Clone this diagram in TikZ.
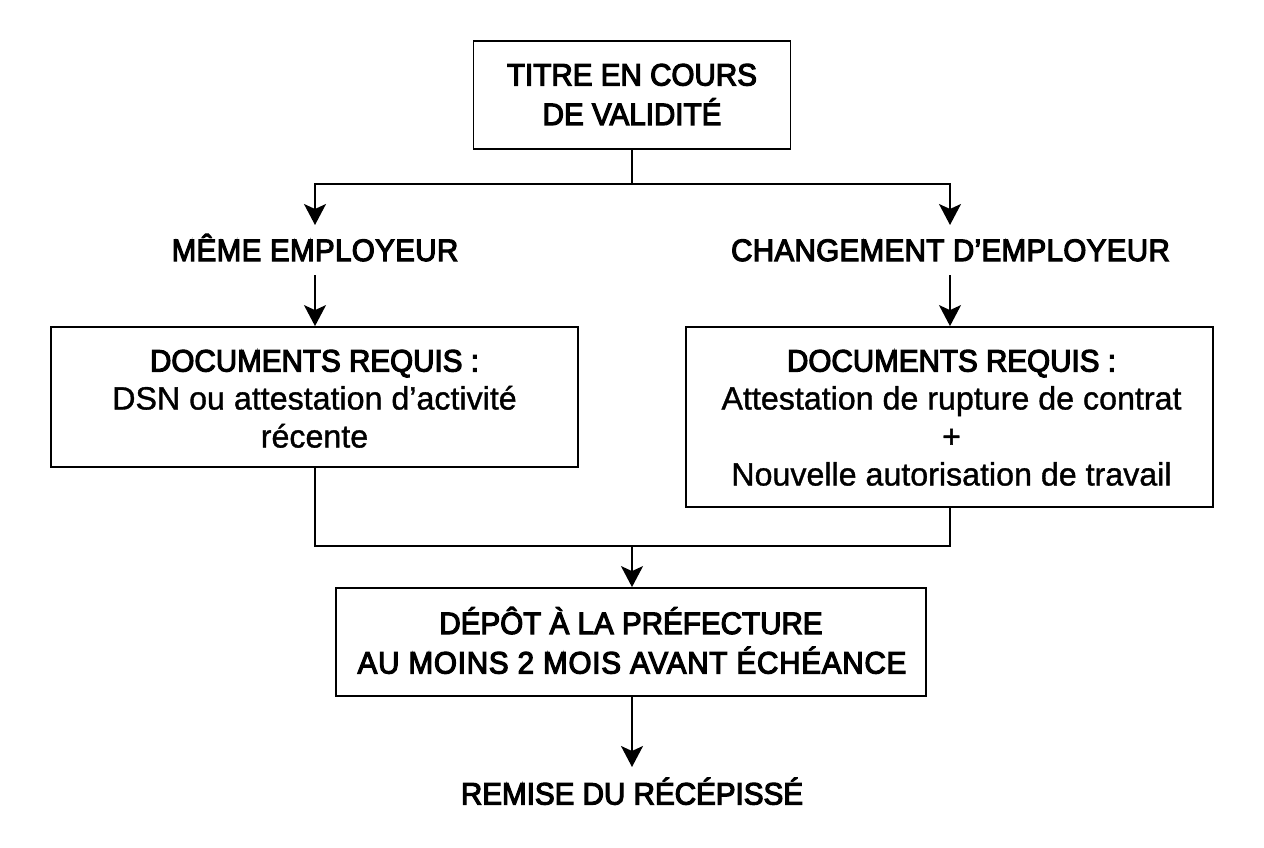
\documentclass[tikz,border=0pt]{standalone}
\usepackage{fontspec}
\setmainfont{Liberation Sans}
\newfontfamily\medbase[FakeStretch=0.955]{Liberation Sans}
\newcommand{\heavy}[2]{\special{pdf:code q 2 Tr #1 w}#2\special{pdf:code Q}}
\newcommand{\medline}[1]{{\fontsize{31}{38}\selectfont\medbase\heavy{1.15}{#1}}}
\newcommand{\regline}[1]{\heavy{0.35}{#1}}
\newcommand{\stA}{\rule[-7.5pt]{0pt}{38.5pt}}
\newcommand{\stAtop}{\rule[-7.5pt]{0pt}{38.5pt}}
\newcommand{\stB}{\rule[-6pt]{0pt}{37pt}}
\newcommand{\stC}{\rule[-7pt]{0pt}{37pt}}
\newcommand{\stD}{\rule[-7pt]{0pt}{35pt}}
\usetikzlibrary{arrows.meta}
\tikzset{x=1pt,y=-1pt,
 box/.style={draw=black,line width=1.8pt,fill=white,inner sep=0pt,align=center,font=\fontsize{32.2}{38}\selectfont},
 lbl/.style={inner sep=0pt,anchor=base,font=\fontsize{31}{38}\selectfont\medbase},
 conn/.style={draw=black,line width=1.8pt},
 arr/.style={conn,-{Stealth[length=21pt,width=22pt,inset=5pt]}}}
\begin{document}
\begin{tikzpicture}
\useasboundingbox (0,0) rectangle (1264,848);
\node[box,minimum width=317pt,minimum height=108pt] (top) at (632,95) {\rule[-9pt]{0pt}{38.5pt}\medline{TITRE EN COURS}\\\rule[-9pt]{0pt}{38.5pt}\medline{DE VALIDITÉ}};
\node[lbl] (same) at (315,261) {\addfontfeature{LetterSpace=1}\heavy{1.15}{MÊME EMPLOYEUR}};
\node[lbl] (chg) at (950.5,261) {\addfontfeature{LetterSpace=1}\heavy{1.15}{CHANGEMENT D’EMPLOYEUR}};
\node[box,minimum width=527pt,minimum height=140pt] (docA) at (314.5,397) {\stB\medline{DOCUMENTS REQUIS :}\\\stB\regline{DSN ou attestation d’activité}\\\stB\regline{récente}};
\node[box,minimum width=527pt,minimum height=180pt] (docB) at (949.5,417) {\stC\hspace*{4pt}\medline{DOCUMENTS REQUIS :}\\\stC\hspace*{4pt}\regline{Attestation de rupture de contrat}\\\stC\hspace*{4pt}\regline{+}\\\stD\hspace*{4pt}\regline{Nouvelle autorisation de travail}};
\node[box,minimum width=590pt,minimum height=108pt] (dep) at (631,642) {\stA\medline{DÉPÔT À LA PRÉFECTURE}\\\stA{\fontsize{31}{38}\selectfont\medbase\addfontfeature{LetterSpace=2.5}\hspace*{2pt}\heavy{1.15}{AU MOINS 2 MOIS AVANT ÉCHÉANCE}}};
\node[lbl] (rem) at (632,804.5) {\heavy{1.15}{REMISE DU RÉCÉPISSÉ}};
\coordinate (split) at (632,184);
\coordinate (merge) at (632,546);
\draw[conn] (top.south) -- (split);
\draw[arr] (split) -| (315,225);
\draw[arr] (split) -| (950,225);
\draw[arr] (315,275) -- (docA.north -| 315,0);
\draw[arr] (950,275) -- (docB.north -| 950,0);
\draw[conn] (docA.south -| 315,0) |- (merge);
\draw[conn] (docB.south -| 950,0) |- (merge);
\draw[arr] (merge) -- (dep.north -| 632,0);
\draw[arr] (dep.south -| 632,0) -- (632,767);
\end{tikzpicture}
\end{document}
